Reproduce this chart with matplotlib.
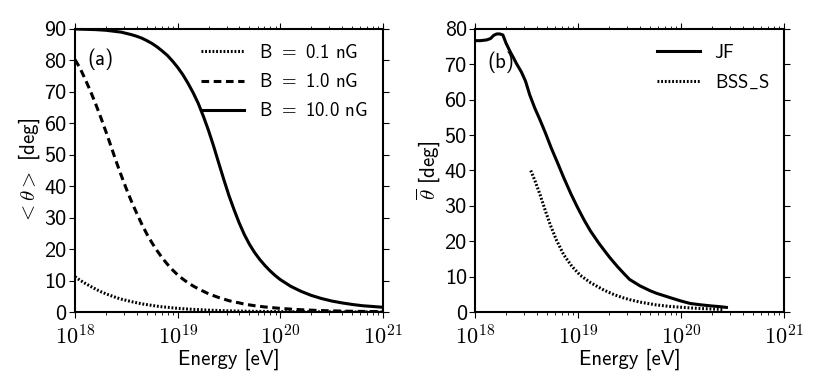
import numpy as np
import matplotlib
matplotlib.use("Agg")
import matplotlib.pyplot as plt
from matplotlib.ticker import MultipleLocator, FuncFormatter

plt.rcParams['font.family'] = 'cmss10'
plt.rcParams['mathtext.fontset'] = 'cm'
plt.rcParams['axes.unicode_minus'] = False
plt.rcParams['font.size'] = 15

# panel (a): mean deflection vs energy, log10(E/eV)
logE_a = [18.0, 18.05, 18.1, 18.15, 18.2, 18.25, 18.3, 18.35, 18.4, 18.45,
          18.5, 18.55, 18.6, 18.65, 18.7, 18.75, 18.8, 18.85, 18.9, 18.95,
          19.0, 19.05, 19.1, 19.15, 19.2, 19.25, 19.3, 19.35, 19.4, 19.45,
          19.5, 19.55, 19.6, 19.65, 19.7, 19.75, 19.8, 19.85, 19.9, 19.95,
          20.0, 20.1, 20.2, 20.3, 20.4, 20.5, 20.6, 20.7, 20.8, 20.9, 21.0]
b10 = [90.0, 89.95, 89.9, 89.85, 89.8, 89.7, 89.6, 89.4, 89.2, 89.0,
       88.6, 88.2, 87.7, 87.1, 86.3, 85.4, 84.3, 83.0, 81.6, 79.8,
       77.8, 75.5, 72.8, 69.8, 66.4, 62.3, 57.8, 52.8, 47.4, 42.1,
       37.0, 32.5, 28.3, 24.6, 21.5, 18.9, 16.7, 14.8, 13.1, 11.6,
       10.3, 8.2, 6.6, 5.3, 4.3, 3.5, 2.9, 2.4, 2.0, 1.75, 1.5]
b1 = [80.3, 77.5, 74.0, 70.3, 66.3, 62.0, 57.5, 52.8, 48.0, 43.5,
      39.2, 35.2, 31.5, 28.0, 24.8, 22.0, 19.5, 17.2, 15.2, 13.4,
      11.8, 10.5, 9.3, 8.3, 7.4, 6.6, 5.8, 5.2, 4.6, 4.1,
      3.6, 3.2, 2.9, 2.5, 2.25, 2.0, 1.8, 1.6, 1.45, 1.3,
      1.15, 0.92, 0.73, 0.58, 0.46, 0.37, 0.29, 0.23, 0.18, 0.15, 0.12]
b01 = [11.2, 10.1, 9.1, 8.2, 7.3, 6.5, 5.8, 5.2, 4.6, 4.1,
       3.7, 3.3, 2.95, 2.6, 2.35, 2.1, 1.85, 1.65, 1.5, 1.32,
       1.18, 1.05, 0.94, 0.84, 0.75, 0.67, 0.59, 0.53, 0.47, 0.42,
       0.37, 0.33, 0.3, 0.26, 0.24, 0.21, 0.19, 0.17, 0.15, 0.13,
       0.12, 0.09, 0.07, 0.06, 0.05, 0.04, 0.03, 0.02, 0.02, 0.015, 0.012]

# panel (b): JF and BSS_S field models
logE_jf = [18.0, 18.05, 18.11, 18.15, 18.18, 18.21, 18.24, 18.27, 18.3, 18.34,
           18.37, 18.40, 18.45, 18.49, 18.53, 18.58, 18.63, 18.68, 18.74, 18.8,
           18.86, 18.93, 18.99, 19.06, 19.12, 19.2, 19.27, 19.31, 19.38, 19.45,
           19.5, 19.6, 19.7, 19.76, 19.9, 20.0, 20.09, 20.2, 20.3, 20.38, 20.44]
jf = [76.7, 76.7, 76.9, 77.3, 78.2, 78.6, 78.6, 78.3, 76.0, 73.6,
      72.0, 70.3, 67.8, 65.2, 61.4, 57.6, 54.3, 50.8, 46.3, 42.2,
      38.0, 33.4, 29.8, 25.9, 22.9, 19.5, 16.8, 15.3, 12.9, 10.7,
      9.2, 7.4, 6.0, 5.3, 4.0, 3.1, 2.4, 2.0, 1.7, 1.5, 1.3]
logE_bss = [18.54, 18.58, 18.63, 18.68, 18.73, 18.79, 18.86, 18.94, 19.02, 19.12,
            19.25, 19.35, 19.44, 19.5, 19.6, 19.76, 19.9, 20.09, 20.2, 20.3, 20.41]
bss = [40.0, 37.2, 33.2, 28.8, 24.6, 20.3, 16.2, 12.9, 10.4, 8.3,
       6.2, 4.9, 4.0, 3.5, 2.8, 2.0, 1.55, 1.15, 0.98, 0.85, 0.7]


def sci_fmt(v, pos):
    return r'$\mathsf{10^{%d}}$' % int(round(np.log10(v)))


fig = plt.figure(figsize=(8.22, 3.85), dpi=100)
ax1 = fig.add_axes([0.0912, 0.1896, 0.3747, 0.7351])
ax2 = fig.add_axes([0.578, 0.1896, 0.3759, 0.7351])

E_a = 10.0 ** np.array(logE_a)
ax1.plot(E_a, b01, color='k', lw=2.2, ls=(0, (0.6, 0.6)), label=r'B $=$ 0.1 nG')
ax1.plot(E_a, b1, color='k', lw=2.2, ls=(0, (2.5, 1.5)), label=r'B $=$ 1.0 nG')
ax1.plot(E_a, b10, color='k', lw=2.2, ls='-', label=r'B $=$ 10.0 nG')
ax1.set_ylim(0, 90)
ax1.set_ylabel(r'$<\theta>$ [deg]', labelpad=2)
ax1.text(0.04, 0.93, '(a)', transform=ax1.transAxes, va='top', ha='left', fontsize=15)

ax2.plot(10.0 ** np.array(logE_jf), jf, color='k', lw=2.2, ls='-', label='JF')
ax2.plot(10.0 ** np.array(logE_bss), bss, color='k', lw=2.2, ls=(0, (0.6, 0.6)),
         label=r'BSS$\_$S')
ax2.set_ylim(0, 80)
ax2.set_ylabel(r'$\overline{\theta}$ [deg]', labelpad=2)
ax2.text(0.04, 0.92, '(b)', transform=ax2.transAxes, va='top', ha='left', fontsize=15)

for ax in (ax1, ax2):
    ax.set_xscale('log')
    ax.set_xlim(1e18, 1e21)
    ax.xaxis.set_major_formatter(FuncFormatter(sci_fmt))
    ax.yaxis.set_major_locator(MultipleLocator(10))
    ax.set_xlabel('Energy [eV]', labelpad=0)
    ax.tick_params(which='both', direction='out', top=True, right=True, labelsize=16)
    ax.tick_params(which='major', length=4, pad=2)
    ax.tick_params(axis='x', which='major', pad=5)
    ax.tick_params(which='minor', length=2)
    for s in ax.spines.values():
        s.set_linewidth(1.5)
    ax.legend(loc='upper right', frameon=False, fontsize=13.5, handlelength=2.3,
              borderaxespad=0.4, labelspacing=0.6, handletextpad=0.8)

fig.savefig('out.png', dpi=100)
